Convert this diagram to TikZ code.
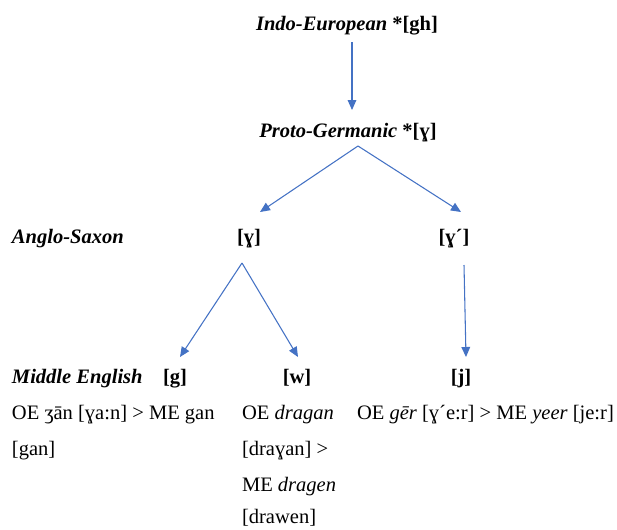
\documentclass[tikz,border=0pt]{standalone}
\usepackage{fontspec}
\setmainfont{Liberation Serif}
\usetikzlibrary{arrows.meta}
\definecolor{lineblue}{HTML}{4472C4}
\begin{document}
\begin{tikzpicture}[x=0.75pt,y=-0.75pt,
  every node/.style={inner sep=0pt,outer sep=0pt,font=\fontsize{15.4}{18}\selectfont},
  lbl/.style={anchor=base west},
  ctr/.style={anchor=base},
  conn/.style={draw=lineblue,line width=0.8pt},
  arr/.style={conn,-{Triangle[length=7.5pt,width=6.5pt]}}]
\useasboundingbox (0,0) rectangle (617,529);
% row 1
\node[ctr] (ie) at (347,30) {\textbf{\textit{Indo-European}} \textbf{*[gh]}};
\node[ctr] (pg) at (348,137) {\textbf{\textit{Proto-Germanic}} \textbf{*[ɣ]}};
% Anglo-Saxon row
\node[lbl] (as) at (12,243) {\textbf{\textit{Anglo-Saxon}}};
\node[ctr] (g1) at (249,243) {\textbf{[ɣ]}};
\node[ctr] (g2) at (454,243) {\textbf{[ɣ´]}};
% Middle English row
\node[lbl] (me) at (12,383) {\textbf{\textit{Middle English}}};
\node[ctr] (mg) at (175,383) {\textbf{[g]}};
\node[ctr] (mw) at (297,383) {\textbf{[w]}};
\node[ctr] (mj) at (461,383) {\textbf{[j]}};
% examples
\node[lbl] (ex1a) at (12,419) {OE ʒān [ɣa:n] > ME gan};
\node[lbl] (ex1b) at (12,455) {[gan]};
\node[lbl] (ex2a) at (242,419) {OE \textit{dragan}};
\node[lbl] (ex2b) at (242,455) {[draɣan] >};
\node[lbl] (ex2c) at (242,491) {ME \textit{dragen}};
\node[lbl] (ex2d) at (242,523) {[drawen]};
\node[lbl] (ex3a) at (357,419) {OE \textit{gēr} [ɣ´e:r] > ME \textit{yeer} [je:r]};
% connector endpoints
\coordinate (ieS) at (352,42);
\coordinate (pgN) at (352,110);
\coordinate (pgS) at (358,146);
\coordinate (g1N) at (260,212);
\coordinate (g2N) at (461,212);
\coordinate (g1S) at (242,263);
\coordinate (mgN) at (180,357);
\coordinate (mwN) at (298,357);
\coordinate (g2S) at (464,265);
\coordinate (mjN) at (466,357);
\draw[arr] (ieS) -- (pgN);
\draw[arr] (pgS) -- (g1N);
\draw[arr] (pgS) -- (g2N);
\draw[arr] (g1S) -- (mgN);
\draw[arr] (g1S) -- (mwN);
\draw[arr] (g2S) -- (mjN);
\end{tikzpicture}
\end{document}
